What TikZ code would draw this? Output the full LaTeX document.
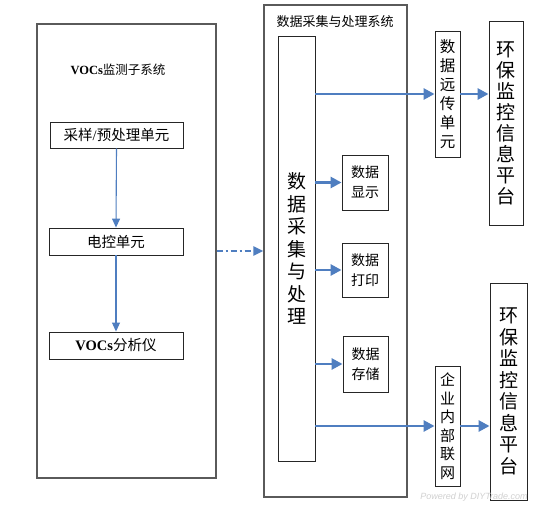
\documentclass[tikz,border=0pt]{standalone}
\usepackage{fontspec}
\setmainfont{Liberation Serif}
\newfontfamily\cjk{Noto Sans CJK SC}
\newfontfamily\wmfont{Liberation Sans}
\usetikzlibrary{arrows.meta}
\definecolor{flowblue}{HTML}{4F7EC0}
\definecolor{framegray}{HTML}{5A5A5A}
\tikzset{
  bigframe/.style={draw=framegray,line width=1.3pt,inner sep=0pt},
  unitbox/.style={draw=black!85,line width=0.9pt,inner sep=0pt,align=center},
  thinflow/.style={draw=flowblue,line width=1.1pt,-{Triangle[length=9pt,width=8pt]}},
  thickflow/.style={draw=flowblue,line width=2.8pt,-{Triangle[length=11pt,width=11pt]}},
  dashflow/.style={draw=flowblue,line width=2.2pt,dash pattern=on 6pt off 3pt on 2pt off 3pt,-{Triangle[length=10pt,width=9pt]}},
}
\begin{document}
\begin{tikzpicture}[x=1pt,y=-1pt]
\useasboundingbox[fill=white] (0,0) rectangle (542,511);

% left subsystem
\node[bigframe,minimum width=179pt,minimum height=454pt] (vocsys) at (126.5,251) {};
\node[inner sep=0pt,font=\fontsize{12.5}{14}\selectfont] (vocstitle) at (118,70) {\textbf{VOCs}{\cjk 监测子系统}};
\node[unitbox,minimum width=133pt,minimum height=26pt,font=\fontsize{14.5}{16}\selectfont] (sample) at (116.5,135) {{\cjk 采样}/{\cjk 预处理单元}};
\node[unitbox,minimum width=134pt,minimum height=27pt,font=\cjk\fontsize{14.5}{16}\selectfont] (ctrl) at (116,241.5) {电控单元};
\node[unitbox,minimum width=134pt,minimum height=27pt,font=\fontsize{14.5}{16}\selectfont] (analyzer) at (116,345.5) {\textbf{VOCs}{\cjk 分析仪}};
\draw[thinflow] (sample.south) -- (ctrl.north);
\draw[thinflow] (ctrl.south) -- (analyzer.north);

% right system
\node[bigframe,minimum width=143pt,minimum height=492pt] (daqsys) at (335.5,251) {};
\node[inner sep=0pt,font=\cjk\fontsize{13}{15}\selectfont] (daqtitle) at (335,22) {数据采集与处理系统};
\draw[dashflow] (vocsys.east) -- (daqsys.west);

\node[unitbox,minimum width=37pt,minimum height=425pt,font=\cjk\fontsize{19}{22.5}\selectfont] (proc) at (296.5,248.5) {数\\据\\采\\集\\与\\处\\理};
\node[unitbox,minimum width=46pt,minimum height=55pt,font=\cjk\fontsize{14}{20}\selectfont] (disp) at (365,182.5) {数据\\显示};
\node[unitbox,minimum width=46pt,minimum height=54pt,font=\cjk\fontsize{14}{20}\selectfont] (print) at (365,270) {数据\\打印};
\node[unitbox,minimum width=45pt,minimum height=56pt,font=\cjk\fontsize{14}{20}\selectfont] (store) at (365.5,364) {数据\\存储};
\draw[thickflow] (proc.east |- disp.west) -- (disp.west);
\draw[thickflow] (proc.east |- print.west) -- (print.west);
\draw[thickflow] (proc.east |- store.west) -- (store.west);

\node[unitbox,minimum width=25pt,minimum height=126pt,font=\cjk\fontsize{15.5}{19}\selectfont] (remote) at (447.5,94) {数\\据\\远\\传\\单\\元};
\node[unitbox,minimum width=25pt,minimum height=120pt,font=\cjk\fontsize{15}{18.5}\selectfont] (intranet) at (447.5,426) {企\\业\\内\\部\\联\\网};
\node[unitbox,minimum width=34pt,minimum height=204pt,font=\cjk\fontsize{19}{21}\selectfont] (plat1) at (506,123) {环\\保\\监\\控\\信\\息\\平\\台};
\node[unitbox,minimum width=37pt,minimum height=217pt,font=\cjk\fontsize{19}{21.5}\selectfont] (plat2) at (508.5,391.5) {环\\保\\监\\控\\信\\息\\平\\台};

\draw[thickflow] (proc.east |- remote.west) -- (remote.west);
\draw[thickflow] (proc.east |- intranet.west) -- (intranet.west);
\draw[thickflow] (remote.east) -- (remote.east -| plat1.west);
\draw[thickflow] (intranet.east) -- (intranet.east -| plat2.west);

\node[inner sep=0pt,text=black!18,font=\wmfont\itshape\fontsize{9}{10}\selectfont] (watermark) at (474,497) {Powered by DIYTrade.com};
\end{tikzpicture}
\end{document}
